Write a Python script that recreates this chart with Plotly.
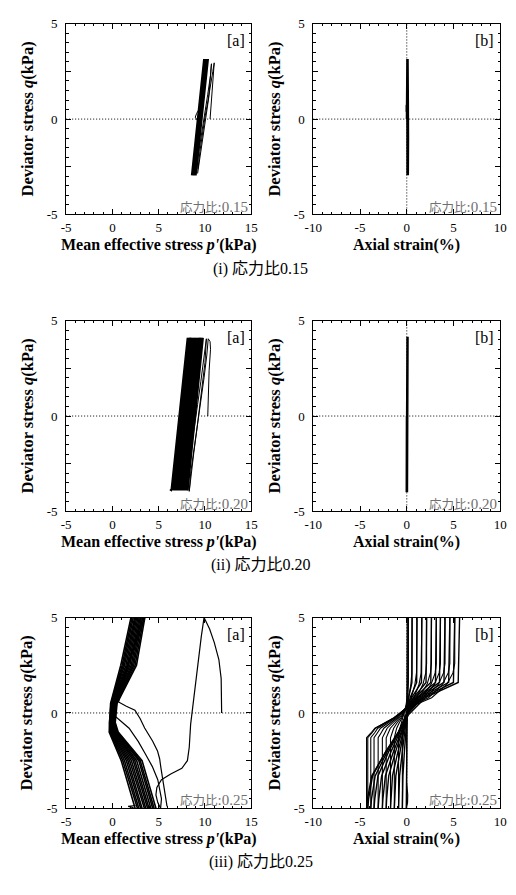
import plotly.graph_objects as go

W, H = 516, 895

# ---------------- stress ratio 0.15 ----------------
R15_P_BAND = [9.0, 9.62, 10.33, 9.58, 8.97, 9.6, 10.3, 9.55, 8.93, 9.55, 10.24, 9.5,
              8.88, 9.5, 10.2, 9.44, 8.84, 9.45, 10.14, 9.4, 8.78, 9.4, 10.1, 9.35,
              8.75, 9.36, 10.05, 9.3, 8.7, 9.3, 10.0, 9.25, 8.66, 9.26, 9.95, 9.22,
              8.62, 9.22, 9.9, 9.18, 8.58]
R15_Q_BAND = [-2.95, 0.0, 3.15, 0.0, -2.95, 0.0, 3.15, 0.0, -2.95, 0.0, 3.15, 0.0,
              -2.95, 0.0, 3.15, 0.0, -2.95, 0.0, 3.15, 0.0, -2.95, 0.0, 3.15, 0.0,
              -2.95, 0.0, 3.15, 0.0, -2.95, 0.0, 3.15, 0.0, -2.95, 0.0, 3.15, 0.0,
              -2.95, 0.0, 3.15, 0.0, -2.95]
R15_P_FIRST = [10.55, 10.65, 10.8, 10.95, 11.0, 10.85, 10.6, 10.3, 10.0, 9.7, 9.45, 9.25]
R15_Q_FIRST = [0.0, 0.7, 1.6, 2.4, 2.95, 2.5, 1.7, 0.9, 0.1, -0.8, -1.7, -2.6]
R15_P_SECOND = [9.2, 9.5, 9.8, 10.1, 10.4, 10.7, 10.6, 10.3, 9.95, 9.6, 9.3, 9.1]
R15_Q_SECOND = [-2.85, -1.9, -0.9, 0.1, 1.1, 2.9, 2.3, 1.3, 0.2, -0.8, -1.8, -2.8]
R15_P_NOTCH = [9.35, 9.1, 8.95, 9.15, 9.35]
R15_Q_NOTCH = [0.5, 0.3, 0.1, -0.05, -0.2]

R15_STRAIN = [0.02, 0.04, 0.07, 0.09, 0.1, 0.08, 0.06, 0.05, 0.07, 0.1, 0.12, 0.1,
              0.08, 0.06, 0.08, 0.11, 0.13, 0.11, 0.09, 0.07]
R15_Q_STRAIN = [0.0, 1.5, 3.1, 1.0, -1.0, -2.95, -1.0, 1.0, 3.15, 1.0, -1.0, -2.9,
                -1.0, 1.0, 3.15, 1.0, -1.0, -2.95, -1.0, 1.0]
R15_STRAIN_BUMP = [0.05, -0.04, -0.04, 0.05]
R15_Q_BUMP = [0.8, 0.72, 0.4, 0.3]

# ---------------- stress ratio 0.20 ----------------
R20_P_BAND = [8.15, 9.8, 8.05, 9.7, 7.95, 9.6, 7.85, 9.5, 7.76, 9.4, 7.65, 9.31,
              7.55, 9.2, 7.46, 9.1, 7.35, 9.0, 7.25, 8.9, 7.15, 8.8, 7.06, 8.7,
              6.95, 8.6, 6.85, 8.5, 6.76, 8.4, 6.65, 8.3, 6.55, 8.2, 6.45, 8.1,
              6.35, 6.2]
R20_Q_BAND = [-3.9, 4.1, -3.9, 4.1, -3.9, 4.1, -3.9, 4.1, -3.9, 4.1, -3.9, 4.1,
              -3.9, 4.1, -3.9, 4.1, -3.9, 4.1, -3.9, 4.1, -3.9, 4.1, -3.9, 4.1,
              -3.9, 4.1, -3.9, 4.1, -3.9, 4.1, -3.9, 4.1, -3.9, 4.1, -3.9, 4.1,
              -3.9, -3.86]
R20_P_FIRST = [10.3, 10.35, 10.45, 10.6, 10.55, 10.35, 10.2, 9.9, 9.6, 9.35, 9.05, 8.75, 8.45, 8.3]
R20_Q_FIRST = [0.0, 1.2, 2.4, 3.5, 3.9, 4.05, 3.2, 2.0, 1.0, 0.0, -1.0, -2.0, -3.0, -3.95]
R20_P_SECOND = [8.3, 8.5, 8.8, 9.1, 9.4, 9.7, 10.0, 10.15, 9.9, 9.55, 9.2, 8.85, 8.5, 8.25, 8.15]
R20_Q_SECOND = [-3.95, -3.0, -1.9, -0.8, 0.4, 1.6, 2.8, 4.05, 3.0, 1.8, 0.6, -0.6, -1.8, -3.0, -3.9]

R20_STRAIN = [0.02, 0.05, 0.07, 0.05, 0.03, 0.0, 0.02, 0.05, 0.08, 0.06, 0.03, 0.01,
              0.03, 0.06, 0.09, 0.07, 0.04, 0.02]
R20_Q_STRAIN = [0.0, 2.0, 4.15, 2.0, 0.0, -4.0, -2.0, 1.0, 4.15, 1.5, -1.0, -4.0,
                -1.0, 2.0, 4.1, 1.0, -2.0, -4.0]

# ---------------- stress ratio 0.25 ----------------
R25_P_FIRST = [11.8, 11.8, 11.75, 11.5, 11.0, 10.5, 9.9, 9.6, 9.3, 9.0, 8.7, 8.45,
               8.3, 8.1, 7.5, 6.3, 5.3, 4.8, 4.7, 4.9, 5.2]
R25_Q_FIRST = [0.0, 1.0, 1.8, 2.8, 3.7, 4.4, 5.0, 4.0, 2.8, 1.6, 0.4, -0.6,
               -1.8, -2.5, -2.9, -3.2, -3.5, -3.9, -4.3, -4.7, -5.0]
R25_P_SECOND = [5.2, 5.3, 4.9, 4.3, 3.5, 2.8, 1.8, 0.9, 0.35, 0.25, 0.55, 1.3, 2.1, 2.8, 3.5]
R25_Q_SECOND = [-5.0, -4.5, -3.5, -2.8, -2.1, -1.5, -0.8, -0.4, -0.2, 0.3, 0.9, 2.0, 3.1, 4.1, 5.0]
R25_P_THIRD = [3.3, 2.6, 1.8, 1.1, 0.66, 1.5, 2.43, 3.0, 3.48, 4.35, 4.87, 5.1, 5.23, 5.6, 5.9]
R25_Q_THIRD = [5.0, 4.0, 2.7, 1.5, 0.58, 0.35, 0.15, -0.3, -0.79, -1.48, -1.99, -2.4, -2.85, -3.9, -4.9]
R25_Q_BAND = [5.0, 2.5, 0.5, -0.5, -1.0, -2.5, -5.0]
R25_P_BAND = [
    [2.0, 0.9, -0.2, -0.35, -0.35, 0.95, 2.45],
    [2.12, 1.05, -0.15, -0.32, -0.28, 1.12, 2.7],
    [2.25, 1.17, -0.08, -0.25, -0.2, 1.3, 2.85],
    [2.4, 1.3, -0.04, -0.2, -0.12, 1.5, 3.05],
    [2.5, 1.46, 0.02, -0.14, -0.05, 1.68, 3.2],
    [2.62, 1.6, 0.08, -0.08, 0.04, 1.86, 3.45],
    [2.75, 1.74, 0.14, -0.04, 0.12, 2.05, 3.6],
    [2.88, 1.88, 0.2, 0.03, 0.2, 2.25, 3.8],
    [3.0, 2.03, 0.27, 0.08, 0.27, 2.42, 3.95],
    [3.12, 2.17, 0.32, 0.13, 0.35, 2.62, 4.15],
    [3.25, 2.3, 0.38, 0.19, 0.45, 2.85, 4.35],
    [3.38, 2.45, 0.44, 0.24, 0.55, 3.0, 4.5],
    [3.5, 2.6, 0.5, 0.3, 0.62, 3.2, 4.7],
]
R25_P_SPIKE = [2.5, 1.7, 2.3]
R25_Q_SPIKE = [-4.85, -4.9, -4.97]

R25_STRAIN_INIT = [0.0, 0.03, 0.05, 0.04, 0.03, 0.0, -0.02, 0.05, 0.1, 0.08, 0.0, -0.05]
R25_Q_INIT = [0.0, 2.5, 5.0, 2.5, 0.0, -2.5, -3.6, -4.0, -4.3, -4.7, -4.9, -5.0]
R25_Q_LOAD = [-5.0, -4.5, -3.3, -2.0, -1.0, -0.1, 0.8, 1.3, 1.6, 5.0]
R25_Q_UNLOAD = [5.0, 2.6, 2.1, 1.5, 0.8, 0.3, -0.25, -0.55, -0.8, -1.05, -1.3, -5.0]
R25_STRAIN_LOAD = [
    [-0.05, -0.05, -0.04, -0.01, 0.02, 0.05, 0.08, 0.13, 0.16, 0.16],
    [-0.47, -0.46, -0.41, -0.25, -0.11, 0.0, 0.19, 0.42, 0.55, 0.57],
    [-0.88, -0.86, -0.77, -0.47, -0.19, 0.01, 0.36, 0.81, 1.06, 1.09],
    [-1.33, -1.3, -1.17, -0.71, -0.3, -0.01, 0.52, 1.2, 1.57, 1.61],
    [-1.74, -1.7, -1.53, -0.93, -0.39, 0.0, 0.69, 1.58, 2.06, 2.12],
    [-2.2, -2.15, -1.93, -1.18, -0.51, -0.02, 0.85, 1.96, 2.57, 2.64],
    [-2.61, -2.55, -2.29, -1.4, -0.59, -0.01, 1.03, 2.35, 3.07, 3.16],
    [-3.06, -2.99, -2.69, -1.66, -0.73, -0.06, 1.14, 2.67, 3.5, 3.6],
    [-3.5, -3.42, -3.08, -1.91, -0.84, -0.08, 1.28, 3.03, 3.98, 4.09],
    [-3.85, -3.77, -3.38, -2.07, -0.89, -0.04, 1.48, 3.43, 4.48, 4.61],
    [-4.17, -4.08, -3.66, -2.22, -0.91, 0.02, 1.69, 3.83, 4.99, 5.13],
    [-4.3, -4.2, -3.75, -2.21, -0.82, 0.18, 1.97, 4.26, 5.5, 5.65],
]
R25_STRAIN_UNLOAD = [
    [0.16, 0.16, 0.15, 0.1, 0.02, -0.12, -0.23, -0.33, -0.39, -0.44, -0.47, -0.47],
    [0.57, 0.57, 0.54, 0.44, 0.21, -0.13, -0.38, -0.59, -0.73, -0.81, -0.88, -0.88],
    [1.09, 1.09, 1.04, 0.87, 0.48, -0.1, -0.51, -0.84, -1.08, -1.21, -1.33, -1.33],
    [1.61, 1.61, 1.54, 1.31, 0.77, -0.05, -0.62, -1.08, -1.4, -1.57, -1.74, -1.74],
    [2.12, 2.12, 2.03, 1.73, 1.03, -0.02, -0.76, -1.35, -1.76, -1.98, -2.2, -2.2],
    [2.64, 2.64, 2.53, 2.17, 1.28, -0.02, -0.92, -1.61, -2.1, -2.35, -2.61, -2.61],
    [3.16, 3.16, 3.04, 2.6, 1.56, 0.01, -1.05, -1.88, -2.45, -2.75, -3.06, -3.06],
    [3.6, 3.6, 3.46, 2.96, 1.77, 0.0, -1.2, -2.15, -2.81, -3.15, -3.5, -3.5],
    [4.09, 4.09, 3.93, 3.38, 2.01, 0.02, -1.33, -2.37, -3.1, -3.45, -3.85, -3.85],
    [4.61, 4.61, 4.43, 3.82, 2.32, 0.11, -1.38, -2.54, -3.34, -3.73, -4.17, -4.17],
    [5.13, 5.13, 4.94, 4.28, 2.66, 0.29, -1.32, -2.55, -3.41, -3.83, -4.3, -4.3],
]

# ---------------- labels ----------------
PANEL_TAGS = ["[a]", "[b]"]
RATIO_LABEL = "応力比"
RATIO_VALUES = [":0.15", ":0.20", ":0.25"]
CAPTIONS = ["(i) 応力比0.15", "(ii) 応力比0.20", "(iii) 応力比0.25"]
P_TICKS = [-5, 0, 5, 10, 15]
STRAIN_TICKS = [-10, -5, 0, 5, 10]
Q_TICKS = [-5, -2.5, 0, 2.5, 5]
Q_TICKTEXT = ["-5", "", "0", "", "5"]

SERIF = "Liberation Serif, Times New Roman, serif"
CJK = "Liberation Serif, Noto Sans CJK JP, serif"

# ---------------- layout geometry (pixels) ----------------
COL_X = [(59, 250), (314, 507)]
ROW_Y = [(17, 211), (319, 513), (621, 815)]

fig = go.Figure()


def add_line(n, x, y, width=1.0):
    sfx = "" if n == 1 else str(n)
    fig.add_trace(go.Scatter(x=x, y=y, mode="lines", xaxis="x" + sfx, yaxis="y" + sfx,
                             line=dict(color="black", width=width), showlegend=False,
                             hoverinfo="skip"))


# panel 1 (0.15, p'-q)
add_line(1, R15_P_BAND, R15_Q_BAND, 2.0)
add_line(1, R15_P_FIRST, R15_Q_FIRST, 1.0)
add_line(1, R15_P_SECOND, R15_Q_SECOND, 1.0)
add_line(1, R15_P_NOTCH, R15_Q_NOTCH, 1.0)
# panel 2 (0.15, strain-q)
add_line(2, R15_STRAIN, R15_Q_STRAIN, 2.5)
add_line(2, R15_STRAIN_BUMP, R15_Q_BUMP, 1.5)
# panel 3 (0.20, p'-q)
add_line(3, R20_P_BAND, R20_Q_BAND, 1.6)
add_line(3, R20_P_FIRST, R20_Q_FIRST, 1.0)
add_line(3, R20_P_SECOND, R20_Q_SECOND, 1.0)
# panel 4 (0.20, strain-q)
add_line(4, R20_STRAIN, R20_Q_STRAIN, 2.5)
# panel 5 (0.25, p'-q)
for row in R25_P_BAND:
    add_line(5, row, R25_Q_BAND, 1.6)
add_line(5, R25_P_FIRST, R25_Q_FIRST, 1.2)
add_line(5, R25_P_SECOND, R25_Q_SECOND, 1.2)
add_line(5, R25_P_THIRD, R25_Q_THIRD, 1.2)
add_line(5, R25_P_SPIKE, R25_Q_SPIKE, 1.2)
# panel 6 (0.25, strain-q)
add_line(6, R25_STRAIN_INIT, R25_Q_INIT, 1.2)
for load in R25_STRAIN_LOAD:
    add_line(6, load, R25_Q_LOAD, 1.4)
for unload in R25_STRAIN_UNLOAD:
    add_line(6, unload, R25_Q_UNLOAD, 1.1)

layout = dict(width=W, height=H, margin=dict(l=0, r=0, t=0, b=0),
              paper_bgcolor="white", plot_bgcolor="white", showlegend=False)

shapes = []
annotations = []
for r in range(3):
    y0, y1 = ROW_Y[r]
    for c in range(2):
        n = r * 2 + c + 1
        sfx = "" if n == 1 else str(n)
        x0, x1 = COL_X[c]
        tickfont = dict(family=SERIF, size=13, color="black")
        xa = dict(domain=[x0 / W, x1 / W], anchor="y" + sfx,
                  range=[-5, 15] if c == 0 else [-10, 10],
                  tickvals=P_TICKS if c == 0 else STRAIN_TICKS,
                  ticktext=[str(v) for v in (P_TICKS if c == 0 else STRAIN_TICKS)],
                  showline=True, linecolor="black", linewidth=1, mirror="allticks",
                  ticks="inside", ticklen=5, tickwidth=1, tickcolor="black",
                  minor=dict(ticks="inside", ticklen=2.5, dtick=1, tickcolor="black", tickwidth=1),
                  showgrid=False, zeroline=False, tickfont=tickfont, ticklabelstandoff=1,
                  fixedrange=True)
        ya = dict(domain=[1 - y1 / H, 1 - y0 / H], anchor="x" + sfx, range=[-5, 5],
                  tickvals=Q_TICKS, ticktext=Q_TICKTEXT,
                  showline=True, linecolor="black", linewidth=1, mirror="allticks",
                  ticks="inside", ticklen=5, tickwidth=1, tickcolor="black",
                  minor=dict(ticks="inside", ticklen=2.5, dtick=0.5, tickcolor="black", tickwidth=1),
                  showgrid=False, zeroline=False, tickfont=tickfont, ticklabelstandoff=5,
                  fixedrange=True)
        layout["xaxis" + sfx] = xa
        layout["yaxis" + sfx] = ya

        dot = dict(color="black", width=1, dash="1px,2px")
        shapes.append(dict(type="line", xref="x" + sfx + " domain", x0=0, x1=1,
                           yref="y" + sfx, y0=0, y1=0, line=dot, layer="below"))
        if c == 1:
            shapes.append(dict(type="line", yref="y" + sfx + " domain", y0=0, y1=1,
                               xref="x" + sfx, x0=0, x1=0, line=dot, layer="below"))

        annotations.append(dict(text=PANEL_TAGS[c], xref="paper", yref="paper",
                                x=(x1 - 4) / W, y=1 - (y0 + 17) / H, xanchor="right",
                                yanchor="middle", showarrow=False,
                                font=dict(family=SERIF, size=16, color="black")))
        ratio = RATIO_LABEL + "<span style='font-size:15px'>" + RATIO_VALUES[r] + "</span>"
        annotations.append(dict(text=ratio, xref="paper", yref="paper",
                                x=(x1 - 1) / W, y=1 - (y1 - 8) / H, xanchor="right",
                                yanchor="middle", showarrow=False,
                                font=dict(family=CJK, size=12.5, color="#707070")))
        annotations.append(dict(text="<b>Deviator stress <i>q</i>(kPa)</b>", xref="paper",
                                yref="paper", x=(x0 - 40) / W, y=1 - ((y0 + y1) / 2) / H,
                                xanchor="center", yanchor="middle", textangle=-90,
                                showarrow=False, font=dict(family=SERIF, size=16.5, color="black")))
        xt = "<b>Mean effective stress <i>p'</i>(kPa)</b>" if c == 0 else "<b>Axial strain(%)</b>"
        annotations.append(dict(text=xt, xref="paper", yref="paper",
                                x=((x0 + x1) / 2) / W, y=1 - (y1 + 31) / H,
                                xanchor="center", yanchor="middle", showarrow=False,
                                font=dict(family=SERIF, size=16, color="black")))
    annotations.append(dict(text=CAPTIONS[r], xref="paper", yref="paper",
                            x=260 / W, y=1 - (y1 + 55) / H, xanchor="center",
                            yanchor="middle", showarrow=False,
                            font=dict(family=CJK, size=16, color="black")))

layout["shapes"] = shapes
layout["annotations"] = annotations
fig.update_layout(**layout)
fig.write_html("out.html")
